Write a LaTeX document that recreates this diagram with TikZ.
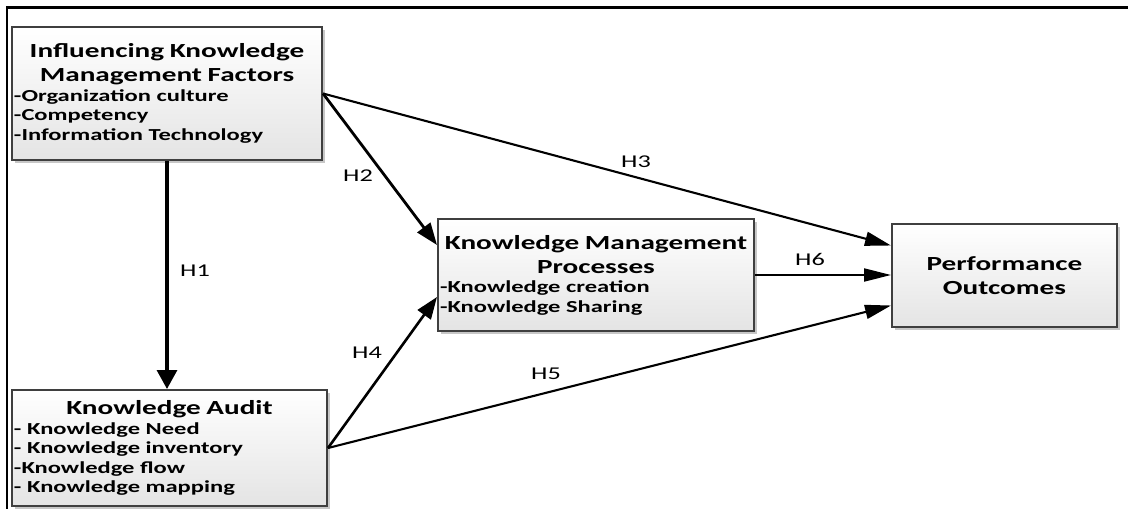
\documentclass[tikz,border=0pt]{standalone}
\usepackage{fontspec}
\setmainfont{Carlito}[FakeStretch=1.46]
\usetikzlibrary{arrows.meta,shadows}
\definecolor{boxedge}{HTML}{3F3F3F}
\definecolor{boxfoot}{HTML}{E4E4E4}
\newcommand{\boxhead}[1]{{\centering\fontsize{20}{24}\selectfont #1\par}}

\begin{document}
\begin{tikzpicture}[x=1pt,y=-1pt]

	\tikzstyle factor box=[draw=boxedge, line width=2pt, top color=white, bottom color=boxfoot, drop shadow={shadow xshift=3pt, shadow yshift=-3pt, fill=black, opacity=0.22}, inner xsep=2pt, inner ysep=0pt, align=left, font=\fontsize{16.8}{19.5}\selectfont\bfseries];
	\tikzstyle hyp lines=[line width=2.1pt];
	\tikzstyle hyp label=[font=\fontsize{18}{20}\selectfont, inner sep=0pt];

	\useasboundingbox (0,0) rectangle (1128,509);
	\draw[line width=2.6pt] (1128,7.5) -- (7,7.5) -- (7,509);

	% boxes
	\node[factor box, text width=306pt, minimum height=133pt] (ikmf) at (167,93.5) {\boxhead{Influencing Knowledge\\Management Factors}-Organization culture\\-Competency\\-Information Technology};
	\node[factor box, text width=311pt, minimum height=116pt] (audit) at (169.5,448) {\boxhead{Knowledge Audit}- Knowledge Need\\- Knowledge inventory\\-Knowledge flow\\- Knowledge mapping};
	\node[factor box, text width=312pt, minimum height=112pt] (kmp) at (596,275) {\boxhead{Knowledge Management\\Processes}-Knowledge creation\\-Knowledge Sharing};
	\node[factor box, text width=221pt, minimum height=103pt] (outcome) at (1004.5,275.5) {\boxhead{Performance\\Outcomes}};

	% hypotheses
	\draw[hyp lines, line width=3.2pt, -{Triangle[length=19pt,width=20pt]}] (ikmf.south) -- (ikmf.south |- audit.north);
	\draw[hyp lines, line width=2.8pt, -{Triangle[length=22pt,width=16pt]}] (ikmf.east) -- ([yshift=30pt]kmp.west);
	\draw[hyp lines, -{Triangle[length=26pt,width=14pt]}] (ikmf.east) -- ([yshift=30pt]outcome.west);
	\draw[hyp lines, line width=2.6pt, -{Triangle[length=22pt,width=16pt]}] (audit.east) -- ([yshift=-22pt]kmp.west);
	\draw[hyp lines, -{Triangle[length=26pt,width=14pt]}] (audit.east) -- ([yshift=-30pt]outcome.west);
	\draw[hyp lines, -{Triangle[length=27pt,width=13pt]}] (kmp.east) -- (kmp.east -| outcome.west);

	\node[hyp label] (h1) at (195,271) {H1};
	\node[hyp label] (h2) at (358,176) {H2};
	\node[hyp label] (h3) at (636,162) {H3};
	\node[hyp label] (h4) at (367,353) {H4};
	\node[hyp label] (h5) at (546,374) {H5};
	\node[hyp label] (h6) at (810,259) {H6};

\end{tikzpicture}
\end{document}
